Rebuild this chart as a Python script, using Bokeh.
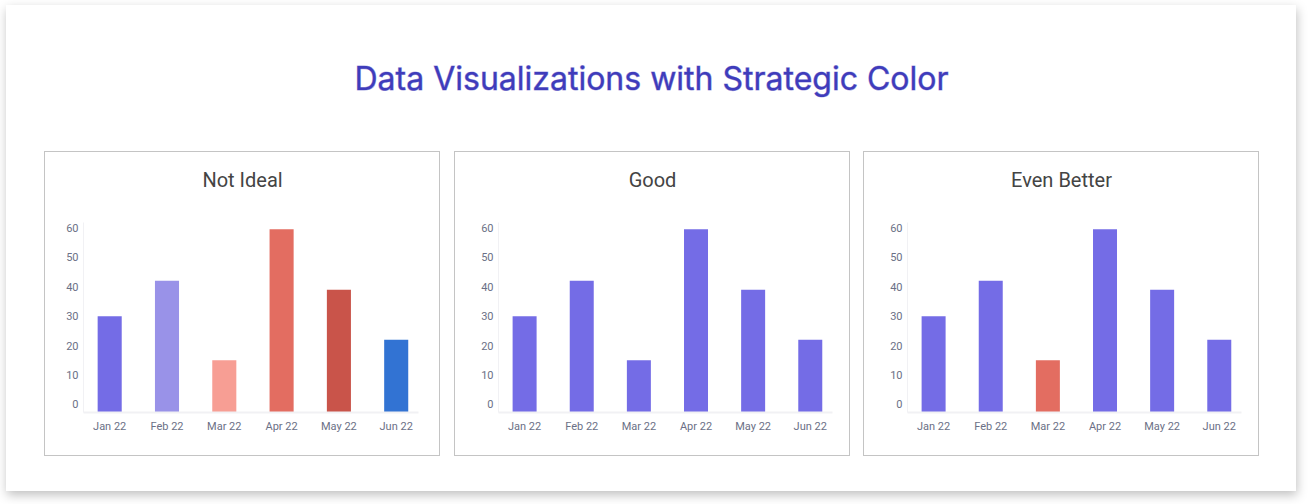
from bokeh.plotting import figure
from bokeh.models import Range1d, FixedTicker, Label, Spacer
from bokeh.layouts import row, column
from bokeh.embed import file_html
from bokeh.resources import INLINE

# ---- data ----
months = ["Jan 22", "Feb 22", "Mar 22", "Apr 22", "May 22", "Jun 22"]
values = [30, 42, 15, 59.5, 39, 22]
y_ticks = [0, 10, 20, 30, 40, 50, 60]
panel_titles = ["Not Ideal", "Good", "Even Better"]
colors_not_ideal = ["#746ce6", "#9992e8", "#f79e94", "#e36d61", "#c9544a", "#3273d3"]
colors_good = ["#746ce6", "#746ce6", "#746ce6", "#746ce6", "#746ce6", "#746ce6"]
colors_better = ["#746ce6", "#746ce6", "#e36d61", "#746ce6", "#746ce6", "#746ce6"]
main_title = "Data Visualizations with Strategic Color"

FONT = "Roboto"
Y_START, Y_END = -2.72, 61.8
PW = 394


def blank(width, height, left=0, right=0):
    f = figure(width=width, height=height, output_backend="svg", toolbar_location=None,
               x_range=Range1d(left / width, (width - right) / width),
               y_range=Range1d(0, height),
               x_axis_type=None, y_axis_type=None, min_border=0,
               min_border_left=left, min_border_right=right)
    f.outline_line_color = None
    f.xgrid.visible = False
    f.ygrid.visible = False
    f.background_fill_color = "white"
    f.border_fill_color = "white"
    return f


def panel(title, colors, left, right):
    idx = list(range(len(months)))
    t = blank(PW, 70, left, right)
    t.add_layout(Label(x=0.5, y=43, text=title, text_align="center", text_baseline="middle",
                       text_font=FONT, text_font_size="20px", text_color="#444444"))

    p = figure(width=PW, height=233, output_backend="svg", toolbar_location=None,
               x_range=Range1d(-0.457, len(months) - 1 + 0.389),
               y_range=Range1d(Y_START, Y_END),
               min_border_left=left, min_border_right=right,
               min_border_top=0, min_border_bottom=43)
    p.outline_line_color = None
    p.background_fill_color = "white"
    p.border_fill_color = "white"
    p.xgrid.visible = False
    p.ygrid.visible = False

    p.vbar(x=idx, top=values, bottom=Y_START, width=0.42, color=colors, line_color=None)

    xa = p.xaxis[0]
    xa.ticker = FixedTicker(ticks=idx)
    xa.major_label_overrides = {i: m for i, m in zip(idx, months)}
    xa.axis_line_color = "#f1f1f4"
    xa.axis_line_width = 2
    xa.major_tick_line_color = None
    xa.minor_tick_line_color = None
    xa.major_tick_out = 0
    xa.major_tick_in = 0
    xa.major_label_standoff = 7
    xa.major_label_text_font = FONT
    xa.major_label_text_font_size = "11px"
    xa.major_label_text_color = "#6b7086"

    ya = p.yaxis[0]
    ya.ticker = FixedTicker(ticks=y_ticks)
    ya.axis_line_color = "#f1f1f4"
    ya.axis_line_width = 1
    ya.major_tick_line_color = None
    ya.minor_tick_line_color = None
    ya.major_tick_out = 0
    ya.major_tick_in = 0
    ya.major_label_standoff = 5
    ya.major_label_text_font = FONT
    ya.major_label_text_font_size = "11px"
    ya.major_label_text_color = "#6b7086"

    box = column(t, p)
    box.styles = {"box-shadow": "0 0 0 1px #c4c4c4"}
    return box


p1 = panel(panel_titles[0], colors_not_ideal, 38, 21)
p2 = panel(panel_titles[1], colors_good, 43, 17)
p3 = panel(panel_titles[2], colors_better, 43, 17)

head = blank(1290, 147)
head.add_layout(Label(x=0.5, y=74, text=main_title, text_align="center",
                      text_baseline="middle", text_font="Inter", text_font_size="32px",
                      text_color="#3f3cbb", text_outline_color="rgba(63,60,187,0.45)"))

panels = row(Spacer(width=39, height=303), p1, Spacer(width=16, height=303), p2,
             Spacer(width=15, height=303), p3, Spacer(width=38, height=303))
card = column(head, panels, Spacer(width=1290, height=36))
card.styles = {"background-color": "white",
               "box-shadow": "1px 4px 10px rgba(0,0,0,0.25)",
               "position": "relative", "left": "6px", "top": "5px"}

open("out.html", "w").write(file_html(card, INLINE))
